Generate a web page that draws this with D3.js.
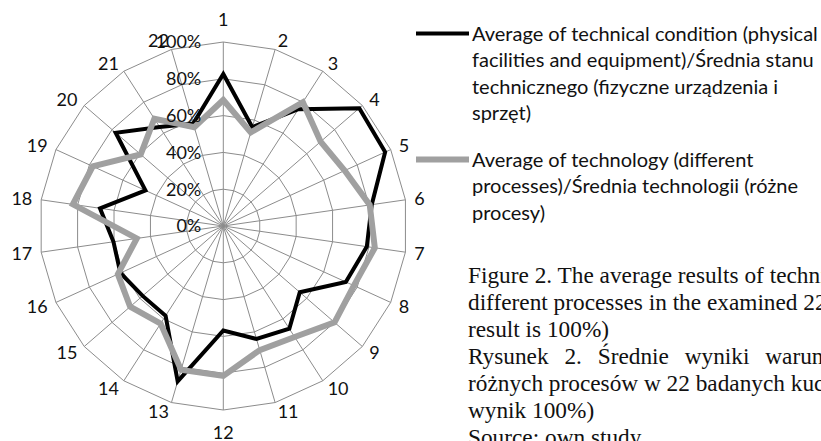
<!DOCTYPE html>
<html lang="pl">
<head>
<meta charset="utf-8">
<title>Radar chart</title>
<script src="https://cdn.jsdelivr.net/npm/d3@7"></script>
<style>
  body { margin: 0; background: #fff; }
  svg { display: block; }
  .grid { fill: none; stroke: #8c8c8c; stroke-width: 1; }
  .spoke { stroke: #8c8c8c; stroke-width: 1; }
  .lbl { font-family: Lato, "Open Sans", sans-serif; font-size: 18px; fill: #111; }
  .leg { font-family: Lato, "Open Sans", sans-serif; font-size: 20px; fill: #111; }
  .cap { font-family: "Liberation Serif", "DejaVu Serif", serif; font-size: 23.3px; fill: #111; }
</style>
</head>
<body>
<div id="box"></div>
<script>
  const width = 821
  const height = 441

  // kategorie (22 badane kuchnie)
  const categories = d3.range(1, 23).map(String)
  // pierścienie siatki
  const ticks = [0, 20, 40, 60, 80, 100]
  const tickLabels = ['0%', '20%', '40%', '60%', '80%', '100%']

  // serie (w %)
  const technicalCondition = [82.6, 56, 75.5, 97.8, 96.7, 81.5, 78.8, 73.2, 55, 66.4, 64,
    56.8, 88, 58, 58, 61.5, 60.3, 67.7, 46.5, 77.4, 64, 58]
  const technology = [68.5, 53, 80, 70, 72.5, 80.4, 83.2, 78, 80, 71.7, 70.3,
    81.5, 81.5, 63, 67, 63, 47.5, 82.6, 78, 59.4, 69.3, 56]

  const legendLabels = [
    ['Average of technical condition (physical', 'facilities and equipment)/Średnia stanu',
      'technicznego (fizyczne urządzenia i', 'sprzęt)'],
    ['Average of technology (different', 'processes)/Średnia technologii (różne', 'procesy)']
  ]
  const captionLines = [
    'Figure 2. The average results of technical condition and technology of',
    'different processes in the examined 22 kitchens (the maximum possible',
    'result is 100%)',
    'Rysunek 2. Średnie wyniki warunków technicznych i technologii',
    'różnych procesów w 22 badanych kuchniach (maksymalny możliwy',
    'wynik 100%)',
    'Source: own study'
  ]

  const cx = 223.3
  const cy = 226
  const R = 184

  const rScale = d3.scaleLinear().domain([0, 100]).range([0, R])
  const aScale = d3.scaleLinear().domain([0, categories.length]).range([0, 2 * Math.PI])

  const svg = d3.select('#box').append('svg')
    .attr('width', width)
    .attr('height', height)

  const g = svg.append('g').attr('transform', `translate(${cx},${cy})`)

  // siatka wielokątna
  const ringLine = d3.lineRadial()
    .angle((d, i) => aScale(i))
    .radius(d => rScale(d))
    .curve(d3.curveLinearClosed)

  g.selectAll('.grid')
    .data(ticks.slice(1))
    .enter()
    .append('path')
    .attr('class', 'grid')
    .attr('d', t => ringLine(categories.map(() => t)))

  g.selectAll('.spoke')
    .data(categories)
    .enter()
    .append('line')
    .attr('class', 'spoke')
    .attr('x1', 0).attr('y1', 0)
    .attr('x2', (d, i) => rScale(100) * Math.sin(aScale(i)))
    .attr('y2', (d, i) => -rScale(100) * Math.cos(aScale(i)))

  // serie
  const seriesLine = d3.lineRadial()
    .angle((d, i) => aScale(i))
    .radius(d => rScale(d))
    .curve(d3.curveLinearClosed)

  g.append('path')
    .attr('d', seriesLine(technicalCondition))
    .attr('fill', 'none')
    .attr('stroke', '#000')
    .attr('stroke-width', 4)
    .attr('stroke-linejoin', 'miter')

  g.append('path')
    .attr('d', seriesLine(technology))
    .attr('fill', 'none')
    .attr('stroke', '#a0a0a0')
    .attr('stroke-width', 6)
    .attr('stroke-linejoin', 'miter')

  // etykiety osi (wartości)
  g.selectAll('.tick')
    .data(ticks)
    .enter()
    .append('text')
    .attr('class', 'lbl')
    .attr('x', -22)
    .attr('y', t => -rScale(t))
    .attr('dy', '0.36em')
    .attr('text-anchor', 'end')
    .text((t, i) => tickLabels[i])

  // etykiety kategorii
  const labelR = R + 9
  g.selectAll('.cat')
    .data(categories)
    .enter()
    .append('text')
    .attr('class', 'lbl')
    .attr('dy', '0.36em')
    .each(function (d, i) {
      const a = aScale(i)
      const s = Math.sin(a)
      const c = Math.cos(a)
      const vertical = Math.abs(s) < 0.01
      d3.select(this)
        .attr('x', labelR * s)
        .attr('y', -labelR * c - (vertical ? 13.5 * c : 0))
        .attr('text-anchor', vertical ? 'middle' : (s > 0 ? 'start' : 'end'))
    })
    .text(d => d)

  // legenda
  const legend = svg.append('g')
  const legendColors = ['#000', '#a0a0a0']
  const legendWidths = [4, 6]
  const legendTop = [33.5, 159.5]
  const lh = 26.5

  legendLabels.forEach((lines, k) => {
    legend.append('line')
      .attr('x1', 416).attr('x2', 469)
      .attr('y1', legendTop[k]).attr('y2', legendTop[k])
      .attr('stroke', legendColors[k])
      .attr('stroke-width', legendWidths[k])
    legend.selectAll(null)
      .data(lines)
      .enter()
      .append('text')
      .attr('class', 'leg')
      .attr('x', 472)
      .attr('y', (d, i) => legendTop[k] + i * lh)
      .attr('dy', '0.36em')
      .text(d => d)
  })

  // podpis
  svg.selectAll('.cap')
    .data(captionLines)
    .enter()
    .append('text')
    .attr('class', 'cap')
    .attr('x', 468)
    .attr('y', (d, i) => 283 + i * 27)
    .attr('word-spacing', (d, i) => i === 3 ? 10 : 0)
    .text(d => d)
</script>
</body>
</html>
